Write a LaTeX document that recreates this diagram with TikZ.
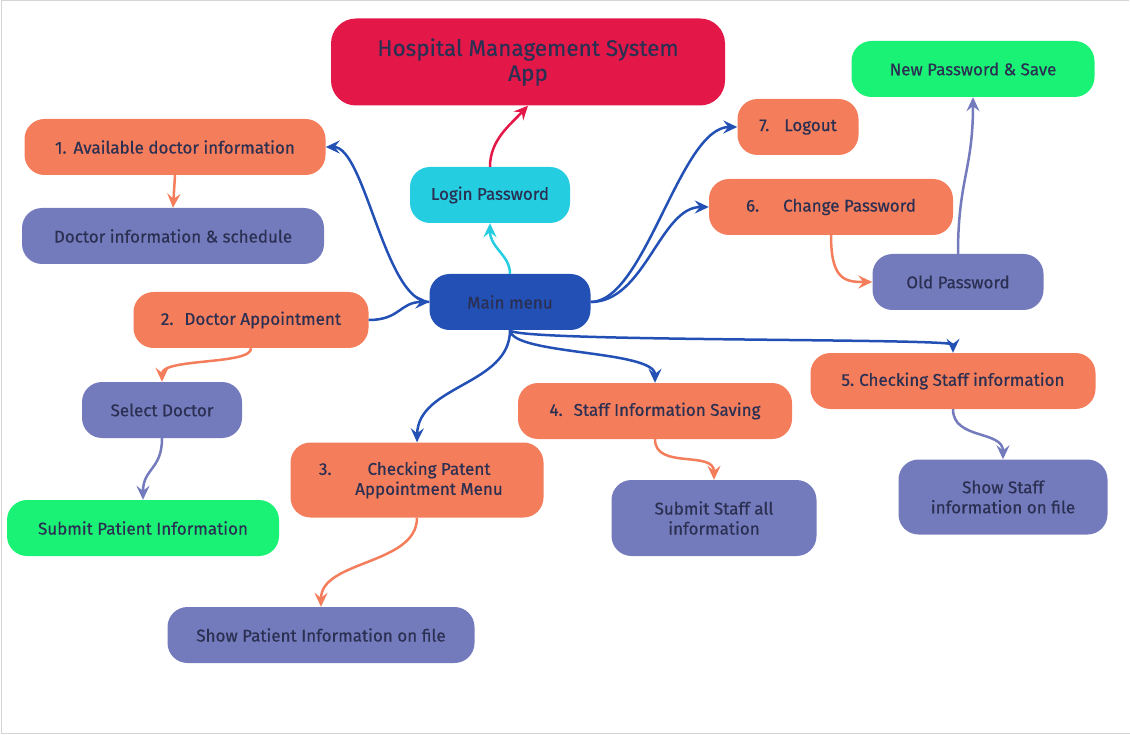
\documentclass[tikz,border=0pt]{standalone}
\usepackage{fontspec}
\setmainfont{Fira Sans}[FakeBold=0.6]
\usepackage{xcolor}
\usetikzlibrary{positioning,calc,arrows.meta}

\definecolor{ink}{HTML}{2B3052}
\definecolor{crimson}{HTML}{E31849}
\definecolor{coral}{HTML}{F47D5C}
\definecolor{lavender}{HTML}{747BBD}
\definecolor{mint}{HTML}{1AF276}
\definecolor{aqua}{HTML}{24CDE0}
\definecolor{royal}{HTML}{2350B5}
\definecolor{frame}{HTML}{D4D4D4}

\begin{document}
\begin{tikzpicture}[x=1pt, y=-1pt,
    box/.style={rounded corners=20pt, minimum height=56pt, inner sep=0pt, align=center, text=ink, font=\fontsize{17}{20}\selectfont},
    orangebox/.style={box, fill=coral},
    purplebox/.style={box, fill=lavender},
    greenbox/.style={box, fill=mint},
    cyanbox/.style={box, fill=aqua},
    bluebox/.style={box, fill=royal},
    titlebox/.style={box, fill=crimson, rounded corners=25pt, font=\fontsize{22.5}{25}\selectfont},
    link/.style={line width=2.5pt, -{Stealth[length=14pt, width=13pt, inset=5pt]}},
]
    \useasboundingbox (0,0) rectangle (1130,735);
    \draw[frame, line width=1pt] (1129,0.5) -- (1,0.5) -- (1,733.5) -- (1130,733.5);

    % Title and login
    \node[titlebox, minimum width=394pt, minimum height=87pt] (title) at (528,62) {Hospital Management System\\App};
    \node[cyanbox, minimum width=160pt] (login) at (490,195) {Login Password};
    \node[bluebox, minimum width=161pt] (main) at (510,302) {Main menu};

    % Doctor side
    \node[orangebox, minimum width=301pt] (avail) at (175,147) {1.\hspace{7pt}Available doctor information};
    \node[purplebox, minimum width=302pt] (schedule) at (173,236) {Doctor information \& schedule};
    \node[orangebox, minimum width=235pt] (appoint) at (251,320) {2.\hspace{11pt}Doctor Appointment};
    \node[purplebox, minimum width=160pt] (select) at (162,410) {Select Doctor};
    \node[greenbox, minimum width=272pt] (submitpat) at (143,528) {Submit Patient Information};

    % Patient and staff
    \node[orangebox, minimum width=253pt, minimum height=75pt] (checkpat) at (417,480) {\hspace*{24pt}\llap{3.\hspace{36pt}}Checking Patent\\\hspace*{24pt}Appointment Menu};
    \node[purplebox, minimum width=307pt] (showpat) at (321,635) {Show Patient Information on file};
    \node[orangebox, minimum width=274pt] (staffsave) at (655,411) {4.\hspace{11pt}Staff Information Saving};
    \node[purplebox, minimum width=205pt, minimum height=76pt] (submitstaff) at (714,518) {Submit Staff all\\information};
    \node[orangebox, minimum width=285pt] (checkstaff) at (953,381) {5.\hspace{5pt}Checking Staff information};
    \node[purplebox, minimum width=209pt, minimum height=75pt] (showstaff) at (1003,497) {Show Staff\\information on file};

    % Password side
    \node[orangebox, minimum width=121pt] (logout) at (798,127) {7.\hspace{15pt}Logout};
    \node[orangebox, minimum width=244pt] (changepw) at (831,207) {6.\hspace{24pt}Change Password};
    \node[purplebox, minimum width=171pt] (oldpw) at (958,282) {Old Password};
    \node[greenbox, minimum width=243pt] (newpw) at (973,69) {New Password \& Save};

    % Connectors
    \draw[link, crimson] (login.north) .. controls (490,140) and (510,125) .. (title.south);
    \draw[link, aqua] (main.north) .. controls (510,255) and (490,248) .. (login.south);
    \draw[link, royal] (main.east) .. controls (645,302) and (680,127) .. (logout.west);
    \draw[link, royal] (main.east) .. controls (645,302) and (660,207) .. (changepw.west);
    \draw[link, royal, {Stealth[length=14pt, width=13pt, inset=5pt]}-] (avail.east) .. controls (365,147) and (385,302) .. (main.west);
    \draw[link, royal] (appoint.east) .. controls (400,320) and (400,302) .. (main.west);
    \draw[link, royal] (main.south) .. controls (510,385) and (418,385) .. (checkpat.north);
    \draw[link, royal] (main.south) .. controls (512,355) and (655,350) .. (staffsave.north);
    \draw[link, royal] (main.south) .. controls (512,342) and (953,338) .. (checkstaff.north);

    \draw[link, coral] (avail.south) -- (schedule.north);
    \draw[link, coral] (appoint.south) .. controls (252,365) and (162,358) .. (select.north);
    \draw[link, lavender] (select.south) .. controls (162,470) and (143,468) .. (submitpat.north);
    \draw[link, coral] (checkpat.south) .. controls (417,565) and (321,560) .. (showpat.north);
    \draw[link, coral] (staffsave.south) .. controls (655,470) and (714,450) .. (submitstaff.north);
    \draw[link, lavender] (checkstaff.south) .. controls (953,440) and (1003,430) .. (showstaff.north);
    \draw[link, coral] (changepw.south) .. controls (831,280) and (845,282) .. (oldpw.west);
    \draw[link, lavender] (oldpw.north) .. controls (958,180) and (973,170) .. (newpw.south);
\end{tikzpicture}
\end{document}
